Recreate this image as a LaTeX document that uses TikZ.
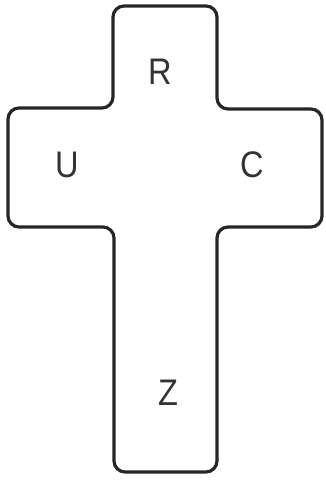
\documentclass[tikz,border=0pt]{standalone}
\usepackage{fontspec}
\setmainfont{Liberation Sans}
\usepackage{tikz}

\begin{document}
\begin{tikzpicture}[
  x=1pt, y=1pt,
  % styles
  outline/.style={draw=black!85, line width=3.2pt, rounded corners=11pt, line join=round},
  letter/.style={font=\fontsize{37}{40}\selectfont, text=black!80, inner sep=0pt, xscale=0.88}
]
  \useasboundingbox (0,0) rectangle (325,481);

  % cross
  \draw[outline] (165,475) -- (217,475) -- (217,372) -- (322,372) -- (322,254)
    -- (217,254) -- (217,9) -- (114,9) -- (114,254) -- (8,254) -- (8,373)
    -- (113,373) -- (113,475) -- cycle;

  % letters
  \node[letter] (top) at (160,409) {R};
  \node[letter] (left) at (67,316) {U};
  \node[letter] (right) at (252,316) {C};
  \node[letter] (bottom) at (168,88) {Z};
\end{tikzpicture}
\end{document}
